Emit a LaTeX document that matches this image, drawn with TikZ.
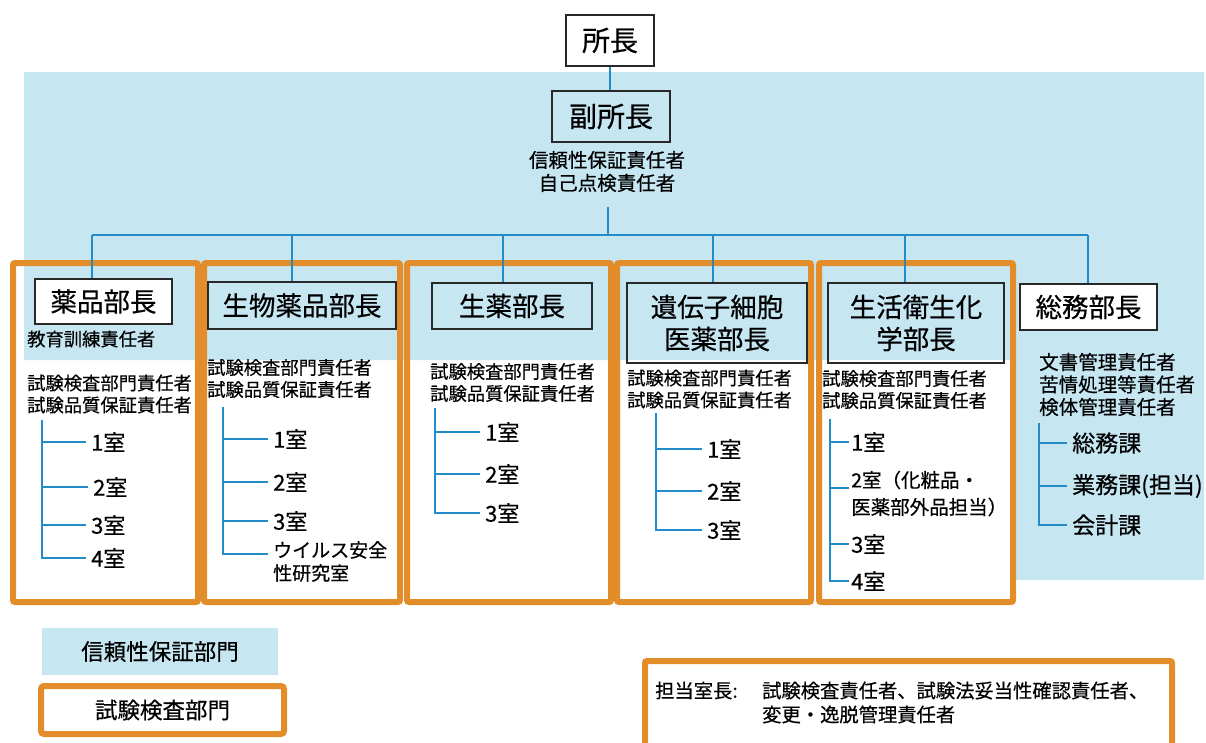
\documentclass[tikz,border=0pt]{standalone}
\usepackage{fontspec}
\setmainfont{Noto Sans CJK JP}[FakeBold=0.5]
\definecolor{bgblue}{RGB}{198,230,242}
\definecolor{orng}{RGB}{226,140,42}
\definecolor{lnblue}{RGB}{35,140,200}
\definecolor{bord}{RGB}{40,40,40}
\tikzset{
  headbox/.style={draw=bord, line width=1.4pt, inner sep=0pt, align=center, font=\fontsize{26.5}{32}\selectfont},
  subtxt/.style={anchor=west, inner sep=0pt, align=left, font=\fontsize{18.3}{22}\selectfont},
  room/.style={anchor=west, inner xsep=5pt, inner ysep=0pt, align=left, font=\fontsize{22}{23}\selectfont},
  conn/.style={draw=lnblue, line width=1.8pt},
  obox/.style={draw=orng, line width=6pt, rounded corners=2pt},
}
\begin{document}
\begin{tikzpicture}[x=1pt,y=-1pt]
\useasboundingbox (0,0) rectangle (1206,742);
\clip (0,0) rectangle (1206,742);

% reliability assurance area
\fill[bgblue] (24,72) -- (1204,72) -- (1204,580) -- (1013,580) -- (1013,360) -- (24,360) -- cycle;

% test inspection department frames
\draw[obox] (13,263) rectangle (198,602);
\draw[obox] (204,263) rectangle (400,602);
\draw[obox] (407,263) rectangle (611,602);
\draw[obox] (617,263) rectangle (811,602);
\draw[obox] (819,263) rectangle (1013,602);

% top heads
\node[headbox, fill=white, minimum width=88pt, minimum height=51pt, font=\fontsize{28}{32}\selectfont] (shocho) at (610,40.5) {所長};
\node[headbox, minimum width=118pt, minimum height=51pt, font=\fontsize{28}{32}\selectfont] (fuku) at (611,116.5) {副所長};
\node[inner sep=0pt, align=center, font=\fontsize{19.5}{23}\selectfont] (fukutxt) at (607,171.5) {信頼性保証責任者\\自己点検責任者};

% department heads
\node[headbox, fill=white, minimum width=137pt, minimum height=45pt] (yaku) at (103.5,301.5) {薬品部長};
\node[headbox, minimum width=188pt, minimum height=47pt] (seibutsu) at (302,305.5) {生物薬品部長};
\node[headbox, minimum width=160pt, minimum height=46pt] (shoyaku) at (512,306) {生薬部長};
\node[headbox, minimum width=180pt, minimum height=80pt] (iden) at (717,323) {遺伝子細胞\\医薬部長};
\node[headbox, minimum width=176pt, minimum height=80pt] (seikatsu) at (916,323) {生活衛生化\\学部長};
\node[headbox, fill=white, minimum width=137pt, minimum height=46pt] (somu) at (1088.5,307) {総務部長};

% connectors from top
\draw[conn] (shocho.south) -- (shocho.south |- fuku.north);
\coordinate (stem) at (608,207);
\coordinate (busc) at (608,235);
\draw[conn] (stem) -- (busc);
\coordinate (d1) at (92,235);
\coordinate (d2) at (292,235);
\coordinate (d3) at (503,235);
\coordinate (d4) at (713,235);
\coordinate (d5) at (905,235);
\coordinate (d6) at (1088,235);
\draw[conn] (d1) -- (d6);
\draw[conn] (d1) -- (d1 |- yaku.north);
\draw[conn] (d2) -- (d2 |- seibutsu.north);
\draw[conn] (d3) -- (d3 |- shoyaku.north);
\draw[conn] (d4) -- (d4 |- iden.north);
\draw[conn] (d5) -- (d5 |- seikatsu.north);
\draw[conn] (d6) -- (d6 |- somu.north);

% responsibilities
\node[subtxt] (yakuedu) at (27,339) {教育訓練責任者};
\node[subtxt] (yakusub) at (27,394) {試験検査部門責任者\\試験品質保証責任者};
\node[subtxt] (seibutsusub) at (207,378.5) {試験検査部門責任者\\試験品質保証責任者};
\node[subtxt] (shoyakusub) at (430,382.5) {試験検査部門責任者\\試験品質保証責任者};
\node[subtxt] (idensub) at (627,389) {試験検査部門責任者\\試験品質保証責任者};
\node[subtxt] (seikatsusub) at (822,389.5) {試験検査部門責任者\\試験品質保証責任者};
\node[subtxt, font=\fontsize{19.5}{22.5}\selectfont] (somusub) at (1039,384.5) {文書管理責任者\\苦情処理等責任者\\検体管理責任者};

% tree 1
\coordinate (t1) at (42,420);
\node[room] (r11) at (86,442) {1室};
\node[room] (r12) at (88,487) {2室};
\node[room] (r13) at (86,525) {3室};
\node[room] (r14) at (86,558) {4室};
\draw[conn] (t1) |- (r14.west);
\foreach \r in {r11,r12,r13} \draw[conn] (t1 |- \r.west) -- (\r.west);

% tree 2
\coordinate (t2) at (223,407);
\node[room] (r21) at (268,439) {1室};
\node[room] (r22) at (268,482) {2室};
\node[room] (r23) at (268,521) {3室};
\node[room, font=\fontsize{19}{23}\selectfont] (r24) at (268,561.5) {ウイルス安全\\性研究室};
\draw[conn] (t2) |- ([yshift=7.5pt]r24.west);
\foreach \r in {r21,r22,r23} \draw[conn] (t2 |- \r.west) -- (\r.west);

% tree 3
\coordinate (t3) at (435,408);
\node[room] (r31) at (480,432) {1室};
\node[room] (r32) at (480,474) {2室};
\node[room] (r33) at (480,513) {3室};
\draw[conn] (t3) |- (r33.west);
\foreach \r in {r31,r32} \draw[conn] (t3 |- \r.west) -- (\r.west);

% tree 4
\coordinate (t4) at (656,413);
\node[room] (r41) at (702,449) {1室};
\node[room] (r42) at (702,491) {2室};
\node[room] (r43) at (702,530) {3室};
\draw[conn] (t4) |- (r43.west);
\foreach \r in {r41,r42} \draw[conn] (t4 |- \r.west) -- (\r.west);

% tree 5
\coordinate (t5) at (830,419);
\node[room, inner xsep=2pt] (r51) at (849,442) {1室};
\node[room, inner xsep=2pt, font=\fontsize{19.5}{27}\selectfont] (r52) at (849,493.5) {2室（化粧品・\\医薬部外品担当）};
\node[room, inner xsep=2pt] (r53) at (849,544) {3室};
\node[room, inner xsep=2pt] (r54) at (849,581) {4室};
\draw[conn] (t5) |- (r54.west);
\draw[conn] (t5 |- r51.west) -- (r51.west);
\draw[conn] (t5 |- r52.west) ++(0,-5.5) -- ([yshift=5.5pt]r52.west);
\draw[conn] (t5 |- r53.west) -- (r53.west);

% tree 6
\coordinate (t6) at (1039,423);
\node[room, font=\fontsize{23}{26}\selectfont] (r61) at (1067,443) {総務課};
\node[room, font=\fontsize{23}{26}\selectfont] (r62) at (1067,486) {業務課(担当)};
\node[room, font=\fontsize{23}{26}\selectfont] (r63) at (1067,525) {会計課};
\draw[conn] (t6) |- (r63.west);
\foreach \r in {r61,r62} \draw[conn] (t6 |- \r.west) -- (\r.west);

% legend
\node[fill=bgblue, minimum width=236pt, minimum height=47pt, inner sep=0pt, font=\fontsize{22.5}{26}\selectfont] (legblue) at (160,651.5) {信頼性保証部門};
\node[draw=orng, line width=6pt, rounded corners=3pt, fill=white, minimum width=243pt, minimum height=48pt, inner sep=0pt, font=\fontsize{22.5}{26}\selectfont] (legorange) at (162.5,710) {試験検査部門};

% room chief note
\draw[obox] (645,800) -- (645,661) -- (1172,661) -- (1172,800);
\node[anchor=west, inner sep=0pt, font=\fontsize{19.3}{24}\selectfont] (tanto) at (655,705)
  {\begin{tabular}{@{}l@{}l@{}}\makebox[107pt][l]{担当室長:} & 試験検査責任者、試験法妥当性確認責任者、\\ & 変更・逸脱管理責任者\end{tabular}};
\end{tikzpicture}
\end{document}
